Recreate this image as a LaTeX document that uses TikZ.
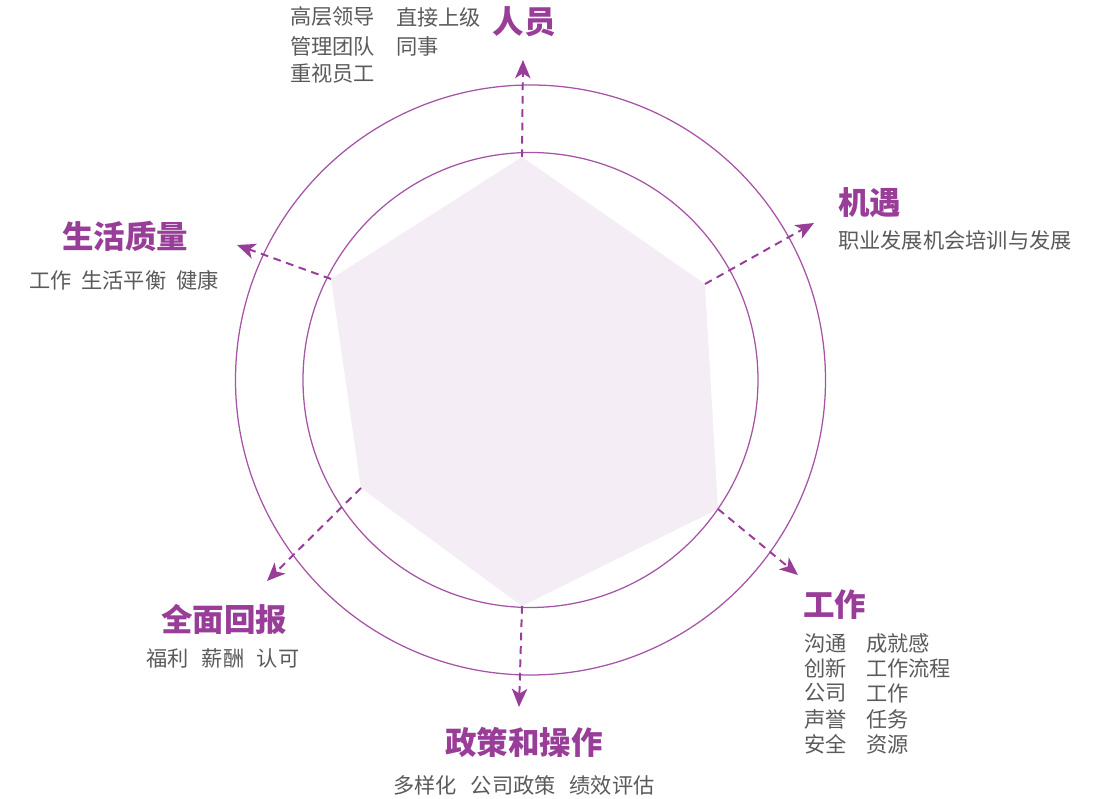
\documentclass[tikz,border=0pt]{standalone}
\usepackage{fontspec}
\setmainfont{Noto Sans CJK SC}
\usetikzlibrary{arrows.meta}
\definecolor{plum}{HTML}{983E98}
\definecolor{ringline}{HTML}{A655A6}
\definecolor{hexfill}{HTML}{F5EDF5}
\definecolor{txtgray}{HTML}{5A5A5A}
\begin{document}
\begin{tikzpicture}[
    x=0.025cm, y=-0.025cm,
    every node/.style={font=\fontsize{15.1}{18}\selectfont, text=txtgray, inner sep=0pt},
    title/.style={font=\fontsize{22.4}{26}\selectfont\bfseries, text=plum},
    ring/.style={draw=ringline, line width=0.9pt},
    spoke/.style={draw=plum, line width=1.4pt, dash pattern=on 5.5pt off 4pt,
        -{Stealth[length=13pt, width=11pt, inset=3.5pt]}}
]
    \useasboundingbox (0,0) rectangle (1101,799);
    \coordinate (c) at (530.5,380);

    % hexagon corners and arrow ends
    \foreach \n/\x/\y in {v1/522/157, v2/705/284, v3/718/509, v4/522/606, v5/361/488, v6/331/279} {
        \coordinate (\n) at (\x,\y);
    }
    \foreach \n/\x/\y in {t1/523/60, t2/814/223, t3/798/575, t4/519/707, t5/267/581, t6/237/245} {
        \coordinate (\n) at (\x,\y);
    }

    \fill[hexfill] (v1) -- (v2) -- (v3) -- (v4) -- (v5) -- (v6) -- cycle;
    \draw[ring] (c) circle[radius=295];
    \draw[ring] (c) circle[radius=227.5];

    \foreach \i in {1,...,6} {
        \draw[spoke] (v\i) -- (t\i);
    }

    % people
    \node[title] (people) at (524,22) {人员};
    \foreach \y/\a in {17/高层领导, 46/管理团队, 74/重视员工} {
        \node[anchor=west] at (290,\y) {\a};
    }
    \foreach \y/\b in {17/直接上级, 46/同事} {
        \node[anchor=west] at (396,\y) {\b};
    }

    % chance
    \node[title, anchor=west] (chance) at (838,203) {机遇};
    \node[anchor=west] (chance-sub) at (838,240) {职业发展机会培训与发展};

    % life
    \node[title] (life) at (125,236) {生活质量};
    \node (life-sub) at (124,280) {工作\hspace{0.45em}生活平衡\hspace{0.45em}健康};

    % work
    \node[title, anchor=west] (work) at (803,605) {工作};
    \foreach \y/\a/\b in {643/沟通/成就感, 668/创新/工作流程, 693/公司/工作, 719/声誉/任务, 744/安全/资源} {
        \node[anchor=west] at (804,\y) {\a};
        \node[anchor=west] at (866,\y) {\b};
    }

    % reward
    \node[title] (reward) at (224,619) {全面回报};
    \node (reward-sub) at (223,658) {福利\hspace{0.6em}薪酬\hspace{0.6em}认可};

    % policy
    \node[title] (policy) at (524,742) {政策和操作};
    \node (policy-sub) at (524,785) {多样化\hspace{0.65em}公司政策\hspace{0.65em}绩效评估};
\end{tikzpicture}
\end{document}
